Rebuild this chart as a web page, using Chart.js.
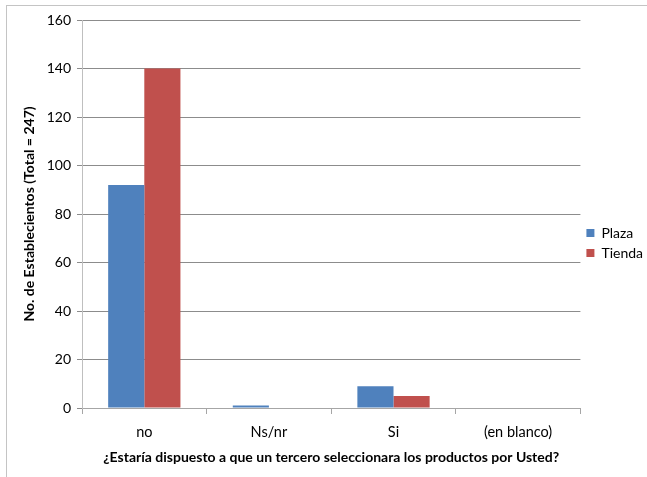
<!DOCTYPE html>
<html>
<head>
<meta charset="utf-8">
<script src="https://cdn.jsdelivr.net/npm/chart.js@4.4.1/dist/chart.umd.min.js"></script>
<style>
  html, body { margin: 0; padding: 0; background: #fff; overflow: hidden; }
  #frame { position: absolute; left: 6px; top: 5px; width: 700px; height: 520px;
           border: 1px solid #c4c4c4; box-sizing: border-box; }
  #wrap { position: absolute; left: 0; top: 0; width: 647px; height: 477px; }
</style>
</head>
<body>
<div id="frame"></div>
<div id="wrap"><canvas id="chart" width="647" height="477"></canvas></div>
<script>
// Survey answers: would they accept a third party choosing products for them?
const categories = ['no', 'Ns/nr', 'Si', '(en blanco)'];
const plaza = [92, 1, 9, 0];
const tienda = [140, 0, 5, 0];
const yTicks = [0, 20, 40, 60, 80, 100, 120, 140, 160];
const seriesNames = ['Plaza', 'Tienda'];
const yTitle = 'No. de Establecientos (Total = 247)';
const xTitle = '¿Estaría dispuesto a que un tercero seleccionara los productos por Usted?';

const FONT = 'Lato, "Liberation Sans", sans-serif';
const PAD_BOTTOM = 11;

new Chart(document.getElementById('chart'), {
  type: 'bar',
  data: {
    labels: categories,
    datasets: [
      { label: seriesNames[0], data: plaza, backgroundColor: '#4F81BD', borderWidth: 0 },
      { label: seriesNames[1], data: tienda, backgroundColor: '#C0504D', borderWidth: 0 }
    ]
  },
  options: {
    responsive: false,
    animation: false,
    devicePixelRatio: 1,
    layout: { padding: { top: 20, right: -6, bottom: PAD_BOTTOM, left: 21 } },
    datasets: { bar: { categoryPercentage: 0.58, barPercentage: 1.0 } },
    plugins: {
      tooltip: { enabled: false },
      legend: {
        position: 'right',
        align: 'center',
        labels: {
          boxWidth: 8, boxHeight: 8, padding: 6,
          color: '#000',
          font: { family: FONT, size: 14 }
        }
      }
    },
    scales: {
      x: {
        grid: { display: true, drawOnChartArea: false, drawTicks: true, tickLength: 6, color: '#a6a6a6', offset: true },
        border: { color: '#a6a6a6', width: 1 },
        ticks: { color: '#000', font: { family: FONT, size: 14.5 }, padding: 10 },
        title: { display: true, text: xTitle, color: '#000', font: { family: FONT, size: 14, weight: 'bold' }, padding: { top: 2, bottom: 0 } },
        afterFit: (s) => { s.height = 477 - 408 - PAD_BOTTOM; }
      },
      y: {
        min: 0, max: 160,
        afterBuildTicks: (s) => { s.ticks = yTicks.map(v => ({ value: v })); },
        grid: { color: '#8c8c8c', tickLength: 5, drawTicks: true },
        border: { color: '#bfbfbf', width: 1 },
        ticks: { color: '#000', font: { family: FONT, size: 14 }, padding: 6 },
        title: { display: true, text: yTitle, color: '#000', font: { family: FONT, size: 14, weight: 'bold' }, padding: { top: 0, bottom: 4 } },
        afterFit: (s) => { s.width = 82 - 21; }
      }
    }
  }
});
</script>
</body>
</html>
